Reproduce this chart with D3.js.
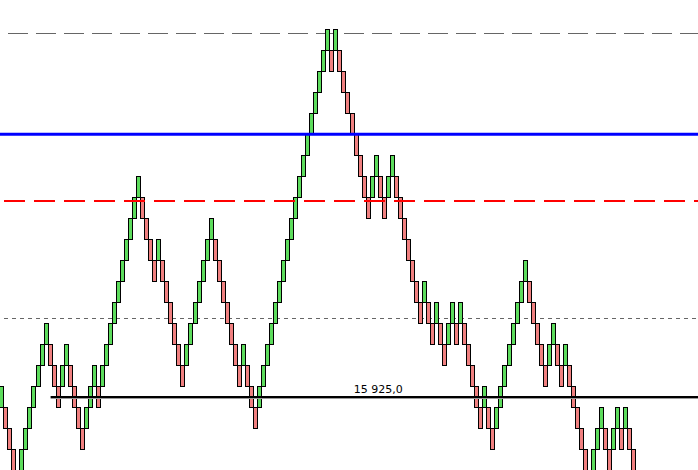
<!DOCTYPE html>
<html>
<head>
<meta charset="utf-8">
<script src="https://cdn.jsdelivr.net/npm/d3@7"></script>
<style>
  html, body { margin: 0; padding: 0; background: #ffffff; }
  svg { display: block; }
</style>
</head>
<body>
<div id="chart"></div>
<script>
// ---- data (Renko bricks, brick size 10 points) ----
const brickSize = 10;
const firstOpen = 15920;
const brickClose = [
  15930, 15910, 15900, 15890, 15880, 15900, 15910, 15920, 15930, 15940,
  15950, 15960, 15940, 15930, 15920, 15940, 15950, 15930, 15920, 15910,
  15900, 15920, 15930, 15940, 15920, 15940, 15950, 15960, 15970, 15980,
  15990, 16000, 16010, 16020, 16030, 16010, 16000, 15990, 15980, 16000,
  15980, 15970, 15960, 15950, 15940, 15930, 15950, 15960, 15970, 15980,
  15990, 16000, 16010, 15990, 15980, 15970, 15960, 15950, 15940, 15930,
  15950, 15930, 15920, 15910, 15930, 15940, 15950, 15960, 15970, 15980,
  15990, 16000, 16010, 16020, 16030, 16040, 16050, 16060, 16070, 16080,
  16090, 16100, 16080, 16100, 16080, 16070, 16060, 16050, 16040, 16030,
  16020, 16010, 16030, 16040, 16020, 16010, 16030, 16040, 16020, 16010,
  16000, 15990, 15980, 15970, 15960, 15980, 15960, 15950, 15970, 15950,
  15940, 15960, 15970, 15950, 15970, 15950, 15940, 15930, 15920, 15910,
  15930, 15910, 15900, 15920, 15930, 15940, 15950, 15960, 15970, 15980,
  15990, 15970, 15960, 15950, 15940, 15930, 15950, 15960, 15940, 15930,
  15950, 15930, 15920, 15910, 15900, 15890, 15880, 15900, 15910, 15920,
  15900, 15890, 15910, 15920, 15900, 15920, 15900, 15890
];

// horizontal levels
const levelTopGray = 16098;
const levelBlue = 16050;
const levelRedDash = 16018;
const levelGrayDot = 15962.3;
const levelBlack = 15925;
const levelBlackStartIndex = 12.75;

// ---- layout ----
const W = 698, H = 470;
const svg = d3.select("#chart").append("svg")
  .attr("width", W).attr("height", H);

svg.append("rect").attr("width", W).attr("height", H).attr("fill", "#ffffff");

const n = brickClose.length;
const x = d3.scaleLinear().domain([0, n - 1]).range([-0.72, 631.3]);
const y = d3.scaleLinear().domain([15890.14, 16113.95]).range([H, 0]);

const bricks = brickClose.map((c, i) => {
  const prev = i === 0 ? null : brickClose[i - 1];
  const up = i === 0 ? c > firstOpen : c > prev;
  const open = up ? c - brickSize : c + brickSize;
  return { i, open, close: c, up };
});

// ---- level lines (behind bricks) ----
const crisp = v => Math.round(v) + 0.5;

svg.append("line")
  .attr("x1", 0).attr("x2", W)
  .attr("y1", crisp(y(levelTopGray))).attr("y2", crisp(y(levelTopGray)))
  .attr("stroke", "#666666").attr("stroke-width", 1)
  .attr("stroke-dasharray", "0,8,20,0");

svg.append("line")
  .attr("x1", 0).attr("x2", W)
  .attr("y1", crisp(y(levelGrayDot))).attr("y2", crisp(y(levelGrayDot)))
  .attr("stroke", "#666666").attr("stroke-width", 1)
  .attr("stroke-dasharray", "0,4,4,0");

// ---- bricks ----
svg.append("g").selectAll("rect")
  .data(bricks)
  .join("rect")
  .attr("x", d => Math.round(x(d.i)) + 0.5)
  .attr("width", 4)
  .attr("y", d => Math.round(y(Math.max(d.open, d.close))) + 0.5)
  .attr("height", d => Math.round(y(Math.min(d.open, d.close))) - Math.round(y(Math.max(d.open, d.close))))
  .attr("fill", d => d.up ? "#5ddc5d" : "#f08080")
  .attr("stroke", "#000000")
  .attr("stroke-width", 1);

// ---- level lines (over bricks) ----
svg.append("line")
  .attr("x1", 0).attr("x2", W)
  .attr("y1", y(levelBlue)).attr("y2", y(levelBlue))
  .attr("stroke", "#0000ff").attr("stroke-width", 3);

svg.append("line")
  .attr("x1", 0).attr("x2", W)
  .attr("y1", Math.round(y(levelRedDash))).attr("y2", Math.round(y(levelRedDash)))
  .attr("stroke", "#ff0000").attr("stroke-width", 2)
  .attr("stroke-dasharray", "0,4,21,5");

const by = Math.round(y(levelBlack));
const bx = x(levelBlackStartIndex);
svg.append("line")
  .attr("x1", bx).attr("x2", W)
  .attr("y1", by + 1.5).attr("y2", by + 1.5)
  .attr("stroke", "#9a9a9a").attr("stroke-width", 1);
svg.append("line")
  .attr("x1", bx).attr("x2", W)
  .attr("y1", by).attr("y2", by)
  .attr("stroke", "#000000").attr("stroke-width", 2);

const fmt = d3.formatLocale({ decimal: ",", thousands: "\u00a0", grouping: [3], currency: ["", ""] }).format(",.1f");
svg.append("text")
  .attr("x", (bx + W) / 2 + 4)
  .attr("y", by - 4)
  .attr("text-anchor", "middle")
  .attr("font-family", "DejaVu Sans, sans-serif")
  .attr("font-size", 11)
  .attr("fill", "#000000")
  .text(fmt(levelBlack));
</script>
</body>
</html>
